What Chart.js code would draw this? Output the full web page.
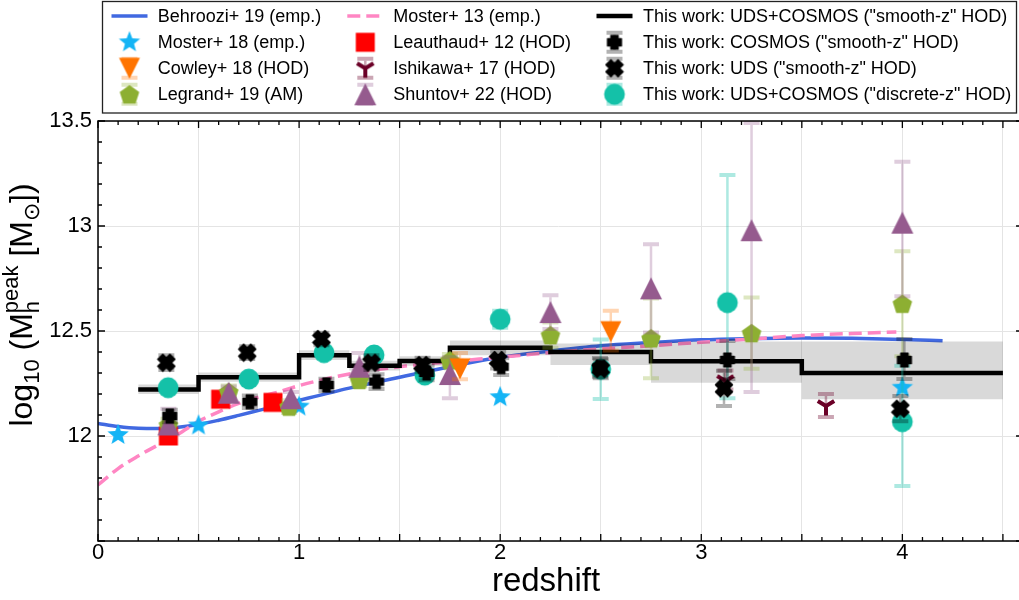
<!DOCTYPE html>
<html>
<head>
<meta charset="utf-8">
<script src="https://cdn.jsdelivr.net/npm/chart.js@4.4.0/dist/chart.umd.min.js"></script>
<style>
  html, body { margin: 0; padding: 0; background: #fff; overflow: hidden; }
  canvas { display: block; }
</style>
</head>
<body>
<canvas id="haloChart" width="1019" height="600"></canvas>
<script>
const FONT = '"Liberation Sans", Arial, Helvetica, sans-serif';

// Behroozi+ 19 (emp.)
const behrooziZ = [0, 0.1, 0.2, 0.3, 0.4, 0.5, 0.6, 0.7, 0.8, 0.9, 1.0, 1.25, 1.5, 1.75, 2.0, 2.25, 2.5, 2.75, 3.0, 3.25, 3.5, 3.75, 4.0, 4.2];
const behrooziM = [12.06, 12.045, 12.037, 12.036, 12.042, 12.055, 12.075, 12.098, 12.122, 12.146, 12.17, 12.228, 12.28, 12.33, 12.375, 12.405, 12.43, 12.445, 12.458, 12.464, 12.467, 12.465, 12.46, 12.453];

// Moster+ 13 (emp.)
const moster13Z = [0, 0.1, 0.2, 0.3, 0.4, 0.5, 0.6, 0.7, 0.8, 0.9, 1.0, 1.25, 1.5, 1.75, 2.0, 2.25, 2.5, 2.75, 3.0, 3.25, 3.5, 3.75, 3.97];
const moster13M = [11.767, 11.845, 11.905, 11.958, 12.01, 12.07, 12.115, 12.155, 12.185, 12.21, 12.24, 12.295, 12.33, 12.354, 12.375, 12.397, 12.415, 12.43, 12.446, 12.462, 12.478, 12.488, 12.495];

// This work: UDS+COSMOS ("smooth-z" HOD), bin edges + values + band
const smoothEdges = [0.2, 0.5, 1.0, 1.25, 1.5, 1.75, 2.25, 2.75, 3.5, 4.5];
const smoothMh = [12.222, 12.28, 12.385, 12.335, 12.357, 12.42, 12.40, 12.356, 12.30];
const smoothLo = [12.2, 12.258, 12.362, 12.312, 12.334, 12.385, 12.338, 12.254, 12.175];
const smoothHi = [12.245, 12.302, 12.408, 12.358, 12.38, 12.455, 12.44, 12.45, 12.45];

// Moster+ 18 (emp.)
const moster18Z = [0.1, 0.5, 1.0, 2.0, 4.0];
const moster18M = [12.005, 12.05, 12.14, 12.185, 12.23];

// Leauthaud+ 12 (HOD)
const leauthaudZ = [0.35, 0.61, 0.87];
const leauthaudM = [12.0, 12.175, 12.16];

// Cowley+ 18 (HOD)
const cowleyZ = [1.8, 2.55];
const cowleyM = [12.32, 12.497];
const cowleyLo = [0.05, 0.09];
const cowleyHi = [0.075, 0.10];

// Ishikawa+ 17 (HOD)
const ishikawaZ = [3.12, 3.62];
const ishikawaM = [12.262, 12.143];
const ishikawaLo = [0.04, 0.053];
const ishikawaHi = [0.05, 0.057];

// Legrand+ 19 (AM)
const legrandZ = [0.35, 0.65, 0.95, 1.3, 1.75, 2.25, 2.75, 3.25, 4.0];
const legrandM = [12.052, 12.21, 12.14, 12.267, 12.36, 12.48, 12.465, 12.49, 12.63];
const legrandLo = [0.03, 0.03, 0.03, 0.03, 0.03, 0.06, 0.19, 0.17, 0.25];
const legrandHi = [0.03, 0.03, 0.03, 0.03, 0.03, 0.06, 0.19, 0.17, 0.25];

// Shuntov+ 22 (HOD)
const shuntovZ = [0.35, 0.65, 0.96, 1.3, 1.75, 2.25, 2.75, 3.25, 4.0];
const shuntovM = [12.055, 12.206, 12.18, 12.33, 12.295, 12.59, 12.703, 12.98, 13.016];
const shuntovLo = [0.03, 0.03, 0.03, 0.04, 0.115, 0.08, 0.21, 0.77, 0.35];
const shuntovHi = [0.075, 0.03, 0.03, 0.065, 0.08, 0.08, 0.21, 0.51, 0.29];

// This work: COSMOS ("smooth-z" HOD)
const cosmosZ = [0.357, 0.755, 1.136, 1.385, 1.634, 2.005, 2.496, 3.13, 4.01];
const cosmosM = [12.095, 12.163, 12.243, 12.259, 12.30, 12.33, 12.327, 12.362, 12.362];
const cosmosLo = [0.03, 0.03, 0.03, 0.035, 0.035, 0.04, 0.045, 0.09, 0.09];
const cosmosHi = [0.03, 0.03, 0.03, 0.035, 0.035, 0.04, 0.045, 0.09, 0.10];

// This work: UDS ("smooth-z" HOD)
const udsZ = [0.34, 0.742, 1.111, 1.36, 1.614, 1.99, 2.5, 3.113, 3.99];
const udsM = [12.349, 12.397, 12.462, 12.349, 12.338, 12.362, 12.32, 12.227, 12.13];
const udsErr = [0.035, 0.03, 0.03, 0.035, 0.035, 0.04, 0.045, 0.084, 0.06];

// This work: UDS+COSMOS ("discrete-z" HOD)
const discreteZ = [0.349, 0.75, 1.124, 1.373, 1.625, 2.0, 2.5, 3.13, 4.0];
const discreteM = [12.23, 12.271, 12.397, 12.386, 12.29, 12.556, 12.318, 12.635, 12.068];
const discreteLo = [0.02, 0.02, 0.02, 0.02, 0.02, 0.04, 0.142, 0.455, 0.306];
const discreteHi = [0.02, 0.02, 0.02, 0.02, 0.02, 0.04, 0.142, 0.608, 0.267];

const xTicksMajor = [0, 1, 2, 3, 4];
const yTicksMajor = [12, 12.5, 13, 13.5];
const X_SPINE = 4.6;   // right spine sits just past the visible edge

function xy(xs, ys) {
    return xs.map((x, i) => ({x: x, y: ys[i]}));
}

function stepXY(edges, vals) {
    const pts = vals.map((v, i) => ({x: edges[i], y: v}));
    pts.push({x: edges[edges.length - 1], y: vals[vals.length - 1]});
    return pts;
}

function isHalf(v) {
    return Math.abs(v * 2 - Math.round(v * 2)) < 1e-6;
}

// marker glyphs drawn once on small canvases, used as pointStyle
function marker(size, paint) {
    const c = document.createElement('canvas');
    c.width = size;
    c.height = size;
    const g = c.getContext('2d');
    g.translate(size / 2, size / 2);
    paint(g);
    return c;
}

function poly(g, pts, color) {
    g.beginPath();
    pts.forEach((p, i) => i ? g.lineTo(p[0], p[1]) : g.moveTo(p[0], p[1]));
    g.closePath();
    g.fillStyle = color;
    g.fill();
}

function regular(n, r, rot) {
    const pts = [];
    for (let k = 0; k < n; k++) {
        const a = rot + k * 2 * Math.PI / n;
        pts.push([r * Math.cos(a), r * Math.sin(a)]);
    }
    return pts;
}

function crossPts(a, b) {
    return [[-b, -a], [b, -a], [b, -b], [a, -b], [a, b], [b, b], [b, a], [-b, a], [-b, b], [-a, b], [-a, -b], [-b, -b]];
}

const starMk = marker(26, g => {
    const pts = [];
    for (let k = 0; k < 10; k++) {
        const rr = k % 2 ? 4.8 : 11.2;
        const a = -Math.PI / 2 + k * Math.PI / 5;
        pts.push([rr * Math.cos(a), rr * Math.sin(a)]);
    }
    poly(g, pts, '#14b4f5');
});
const squareMk = marker(22, g => poly(g, [[-9.5, -9.5], [9.5, -9.5], [9.5, 9.5], [-9.5, 9.5]], '#ff0000'));
const triDownMk = marker(24, g => poly(g, [[-10.5, -10.5], [10.5, -10.5], [0, 10.5]], '#ff7400'));
const triUpMk = marker(26, g => poly(g, [[0, -11], [11, 11], [-11, 11]], '#955b8e'));
const pentagonMk = marker(24, g => {
    g.translate(0, 1);
    poly(g, regular(5, 10.3, -Math.PI / 2), '#8daf32');
});
const circleMk = marker(24, g => {
    g.beginPath();
    g.arc(0, 0, 10.4, 0, 2 * Math.PI);
    g.fillStyle = '#14c1a8';
    g.fill();
});
const plusMk = marker(18, g => {
    g.lineJoin = 'round';
    g.strokeStyle = '#000';
    g.lineWidth = 1.2;
    poly(g, crossPts(7, 3.7), '#000');
    g.stroke();
});
const crossMk = marker(20, g => {
    g.rotate(Math.PI / 4);
    g.lineJoin = 'round';
    g.strokeStyle = '#000';
    g.lineWidth = 1.2;
    poly(g, crossPts(8.6, 3.6), '#000');
    g.stroke();
});
const triYMk = marker(22, g => {
    g.strokeStyle = '#6b0027';
    g.lineWidth = 4;
    g.beginPath();
    g.moveTo(0, 0); g.lineTo(0, 9.5);
    g.moveTo(0, 0); g.lineTo(-8.2, -5);
    g.moveTo(0, 0); g.lineTo(8.2, -5);
    g.stroke();
});

const GREY_ERR = 'rgba(0,0,0,0.3)';

function drawErr(g, px, top, bot, color) {
    g.strokeStyle = color;
    g.lineWidth = 2.5;
    g.beginPath();
    g.moveTo(px, top + 2);
    g.lineTo(px, bot - 2);
    g.stroke();
    g.lineWidth = 4;
    g.beginPath();
    g.moveTo(px - 8, top); g.lineTo(px + 8, top);
    g.moveTo(px - 8, bot); g.lineTo(px + 8, bot);
    g.stroke();
}

const errorBars = {
    id: 'errorBars',
    beforeDatasetDraw(chart, args) {
        const ds = chart.data.datasets[args.index];
        if (!ds.errLo) return;
        const {x: xs, y: ys} = chart.scales;
        const a = chart.chartArea;
        const g = chart.ctx;
        g.save();
        g.beginPath();
        g.rect(a.left, a.top, a.right - a.left, a.bottom - a.top);
        g.clip();
        ds.data.forEach((p, i) => {
            drawErr(g, xs.getPixelForValue(p.x),
                ys.getPixelForValue(p.y + ds.errHi[i]),
                ys.getPixelForValue(p.y - ds.errLo[i]), ds.errColor);
        });
        g.restore();
    }
};

// axis titles: y one has sub/superscripts so both are drawn here
function drawTitles(g) {
    const big = '32px ' + FONT, small = '22px ' + FONT;
    const parts = [
        {t: 'log', f: big, dy: 0},
        {t: '10', f: small, dy: 7},
        {t: ' (M', f: big, dy: 0},
        {sub: 'h', sup: 'peak'},
        {t: ' [M', f: big, dy: 0},
        {t: '\u2299', f: small, dy: 7},
        {t: '])', f: big, dy: 0}
    ];
    let total = 0;
    parts.forEach(p => {
        if (p.sub) {
            g.font = small;
            p.w = Math.max(g.measureText(p.sub).width, g.measureText(p.sup).width);
        } else {
            g.font = p.f;
            p.w = g.measureText(p.t).width;
        }
        total += p.w;
    });
    g.save();
    g.fillStyle = '#000';
    g.font = '33px ' + FONT;
    g.textAlign = 'center';
    g.textBaseline = 'middle';
    g.fillText('redshift', 546, 582);
    g.translate(32, 305);
    g.rotate(-Math.PI / 2);
    g.textBaseline = 'alphabetic';
    g.textAlign = 'left';
    let x = -total / 2;
    parts.forEach(p => {
        if (p.sub) {
            g.font = small;
            g.fillText(p.sub, x, 7);
            g.fillText(p.sup, x, -14);
        } else {
            g.font = p.f;
            g.fillText(p.t, x, p.dy);
        }
        x += p.w;
    });
    g.restore();
}

const frameAndTicks = {
    id: 'frameAndTicks',
    afterDatasetsDraw(chart) {
        const {ctx: g, chartArea: a, scales: {x, y}} = chart;
        const spineX = x.getPixelForValue(X_SPINE);
        g.save();
        g.strokeStyle = '#000';
        g.lineWidth = 1.3;
        g.beginPath();
        x.ticks.forEach(t => {
            const px = x.getPixelForValue(t.value);
            const len = isHalf(t.value) ? 7 : 4;
            g.moveTo(px, a.bottom); g.lineTo(px, a.bottom - len);
            g.moveTo(px, a.top); g.lineTo(px, a.top + len);
        });
        y.ticks.forEach(t => {
            const py = y.getPixelForValue(t.value);
            const len = isHalf(t.value) ? 7 : 4;
            g.moveTo(a.left, py); g.lineTo(a.left + len, py);
            g.moveTo(spineX, py); g.lineTo(spineX - len, py);
        });
        g.stroke();
        g.lineWidth = 1.5;
        g.strokeRect(a.left, a.top, spineX - a.left, a.bottom - a.top);
        g.restore();
        drawTitles(g);
    }
};

const legendColX = [129.5, 365.3, 614.5];
const legendTextX = [157.7, 393.3, 643];
const legendRowY = [16, 42.3, 68.3, 94.3];

const legendBox = {
    id: 'legendBox',
    afterDraw(chart) {
        const g = chart.ctx;
        g.save();
        g.fillStyle = 'rgba(255,255,255,0.9)';
        g.fillRect(102, 1, 915, 112);
        g.strokeStyle = '#222';
        g.lineWidth = 1.3;
        g.strokeRect(102.5, 1.5, 914, 111.5);
        chart.data.datasets.forEach(ds => {
            if (!ds.legendPos) return;
            const [col, row] = ds.legendPos;
            const cx = legendColX[col], cy = legendRowY[row];
            if (ds.legendKind === 'line') {
                g.strokeStyle = ds.borderColor;
                g.lineWidth = ds.borderWidth;
                g.setLineDash(ds.borderDash || []);
                g.beginPath();
                g.moveTo(cx - 18, cy);
                g.lineTo(cx + 18, cy);
                g.stroke();
                g.setLineDash([]);
            } else {
                if (ds.errColor) drawErr(g, cx, cy - 9.5, cy + 9.5, ds.errColor);
                const m = ds.pointStyle;
                g.drawImage(m, cx - m.width / 2, cy - m.height / 2);
            }
            g.fillStyle = '#000';
            g.font = '18px ' + FONT;
            g.textBaseline = 'middle';
            g.textAlign = 'left';
            g.fillText(ds.label, legendTextX[col], cy + 1);
        });
        g.restore();
    }
};

function markerSet(label, zs, ms, mk, pos, order, extra) {
    return Object.assign({
        label: label,
        data: xy(zs, ms),
        showLine: false,
        pointStyle: mk,
        pointRadius: 10,
        legendPos: pos,
        legendKind: 'marker',
        order: order
    }, extra || {});
}

const ctx = document.getElementById('haloChart').getContext('2d');
new Chart(ctx, {
    type: 'line',
    data: {
        datasets: [
            {
                label: 'Behroozi+ 19 (emp.)',
                data: xy(behrooziZ, behrooziM),
                borderColor: '#4169e1', borderWidth: 3.5,
                pointRadius: 0, cubicInterpolationMode: 'monotone',
                legendPos: [0, 0], legendKind: 'line', order: 14
            },
            {
                label: 'Moster+ 13 (emp.)',
                data: xy(moster13Z, moster13M),
                borderColor: '#ff86c3', borderWidth: 3.5, borderDash: [13, 6],
                pointRadius: 0, cubicInterpolationMode: 'monotone',
                legendPos: [1, 0], legendKind: 'line', order: 13
            },
            {
                label: 'band low',
                data: stepXY(smoothEdges, smoothLo),
                stepped: true, borderWidth: 0, pointRadius: 0, fill: false, order: 12
            },
            {
                label: 'band high',
                data: stepXY(smoothEdges, smoothHi),
                stepped: true, borderWidth: 0, pointRadius: 0,
                fill: 2, backgroundColor: 'rgba(0,0,0,0.15)', order: 11
            },
            {
                label: 'This work: UDS+COSMOS ("smooth-z" HOD)',
                data: stepXY(smoothEdges, smoothMh),
                stepped: true, borderColor: '#000', borderWidth: 4.5, pointRadius: 0,
                legendPos: [2, 0], legendKind: 'line', order: 10
            },
            markerSet('Moster+ 18 (emp.)', moster18Z, moster18M, starMk, [0, 1], 9),
            markerSet('Leauthaud+ 12 (HOD)', leauthaudZ, leauthaudM, squareMk, [1, 1], 8),
            markerSet('Legrand+ 19 (AM)', legrandZ, legrandM, pentagonMk, [0, 3], 7,
                {errLo: legrandLo, errHi: legrandHi, errColor: 'rgba(141,175,50,0.3)'}),
            markerSet('Shuntov+ 22 (HOD)', shuntovZ, shuntovM, triUpMk, [1, 3], 6,
                {errLo: shuntovLo, errHi: shuntovHi, errColor: 'rgba(149,91,142,0.3)'}),
            markerSet('Ishikawa+ 17 (HOD)', ishikawaZ, ishikawaM, triYMk, [1, 2], 5,
                {errLo: ishikawaLo, errHi: ishikawaHi, errColor: 'rgba(107,0,39,0.35)'}),
            markerSet('Cowley+ 18 (HOD)', cowleyZ, cowleyM, triDownMk, [0, 2], 4,
                {errLo: cowleyLo, errHi: cowleyHi, errColor: 'rgba(255,116,0,0.3)'}),
            markerSet('This work: UDS+COSMOS ("discrete-z" HOD)', discreteZ, discreteM, circleMk, [2, 3], 3,
                {errLo: discreteLo, errHi: discreteHi, errColor: 'rgba(20,193,168,0.35)'}),
            markerSet('This work: UDS ("smooth-z" HOD)', udsZ, udsM, crossMk, [2, 2], 2,
                {errLo: udsErr, errHi: udsErr, errColor: GREY_ERR}),
            markerSet('This work: COSMOS ("smooth-z" HOD)', cosmosZ, cosmosM, plusMk, [2, 1], 1,
                {errLo: cosmosLo, errHi: cosmosHi, errColor: GREY_ERR})
        ]
    },
    options: {
        responsive: false,
        animation: false,
        events: [],
        devicePixelRatio: 1,
        layout: { autoPadding: false, padding: { top: 121, right: 0, left: 0, bottom: 0 } },
        plugins: {
            legend: { display: false },
            tooltip: { enabled: false }
        },
        scales: {
            x: {
                type: 'linear', min: 0, max: 4.58,
                afterFit(s) {
                    s.height = 59;
                    s.paddingLeft = 0;
                    s.paddingRight = 0;
                },
                ticks: {
                    stepSize: 0.1, autoSkip: false, maxRotation: 0, padding: -1, includeBounds: false,
                    color: '#000', font: { family: FONT, size: 22 },
                    callback: v => xTicksMajor.some(t => Math.abs(t - v) < 1e-6) ? String(Math.round(v)) : ''
                },
                grid: {
                    drawTicks: false, lineWidth: 1,
                    color: c => isHalf(c.tick.value) ? '#e4e4e4' : 'rgba(0,0,0,0)'
                },
                border: { display: false }
            },
            y: {
                type: 'linear', min: 11.5, max: 13.5,
                afterFit(s) { s.width = 98; },
                ticks: {
                    stepSize: 0.1, autoSkip: false, padding: 6,
                    color: '#000', font: { family: FONT, size: 22 },
                    callback: v => yTicksMajor.some(t => Math.abs(t - v) < 1e-6) ? String(Math.round(v * 10) / 10) : ''
                },
                grid: {
                    drawTicks: false, lineWidth: 1,
                    color: c => isHalf(c.tick.value) ? '#e4e4e4' : 'rgba(0,0,0,0)'
                },
                border: { display: false }
            }
        }
    },
    plugins: [errorBars, frameAndTicks, legendBox]
});
</script>
</body>
</html>
